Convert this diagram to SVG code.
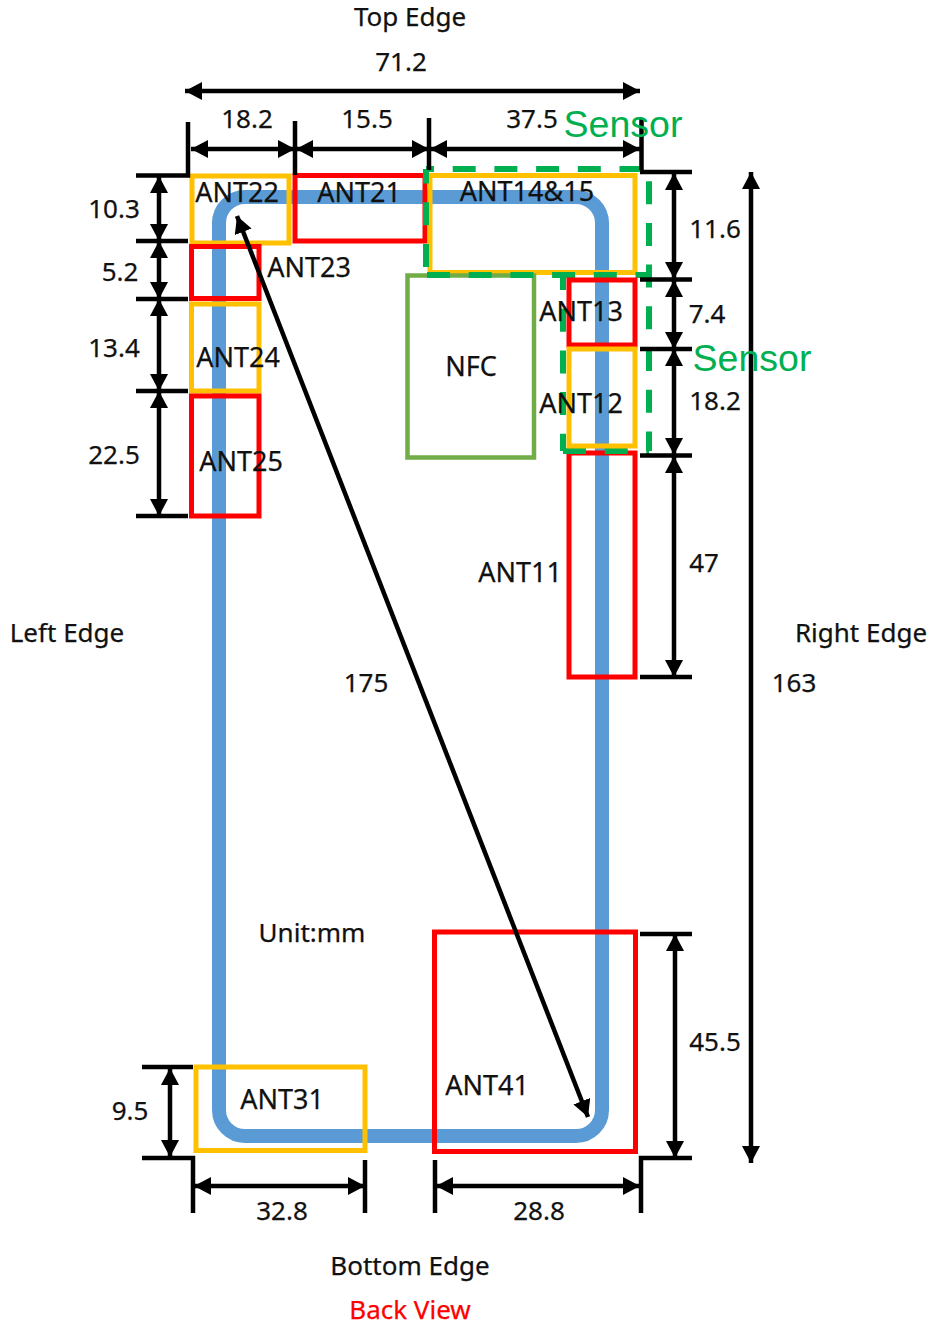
<svg xmlns="http://www.w3.org/2000/svg" width="933" height="1325" viewBox="0 0 933 1325">
<style>
text{font-family:"Noto Sans","Liberation Sans",sans-serif;font-size:26px;fill:#111;stroke:#111;stroke-width:.25px;text-anchor:middle}
.n{font-size:27px}
.s{font-family:"Liberation Sans",Arial,sans-serif;font-size:37.500px;fill:#00B050;stroke:none}
.r{fill:none;stroke:#FF0000;stroke-width:5}
.y{fill:none;stroke:#FFC000;stroke-width:5}
.g{fill:none;stroke:#70AD47;stroke-width:4.500}
.d{fill:none;stroke:#00B050;stroke-width:6;stroke-dasharray:23 18.700}
.l{fill:none;stroke:#000;stroke-width:4.500}
.a{fill:none;stroke:#000;stroke-width:4.500;marker-start:url(#h);marker-end:url(#h)}
</style>
<defs><marker id="h" markerUnits="userSpaceOnUse" markerWidth="18" markerHeight="19" refX="17" refY="9" orient="auto-start-reverse"><path d="M0 0L17 9L0 18z" fill="#000"/></marker></defs>
<rect id="frame" x="219" y="197" width="383" height="939" rx="26" fill="none" stroke="#5B9BD5" stroke-width="14"/>
<g id="ANT22"><rect class="y" x="192" y="176" width="97" height="67"/><text class="n" x="237" y="202">ANT22</text></g>
<g id="ANT21"><rect class="r" x="295" y="175.500" width="130" height="65.500"/><text class="n" x="359" y="202">ANT21</text></g>
<g id="ANT23"><rect class="r" x="191.500" y="246.500" width="67.500" height="52"/><text class="n" x="309" y="277">ANT23</text></g>
<g id="ANT24"><rect class="y" x="191.500" y="304" width="67.500" height="87"/><text class="n" x="238" y="367">ANT24</text></g>
<g id="ANT25"><rect class="r" x="191.500" y="396" width="67.500" height="120"/><text class="n" x="241" y="471">ANT25</text></g>
<g id="ANT1415"><rect class="y" x="430" y="175.500" width="205" height="97"/><text class="n" x="527" y="201">ANT14&amp;15</text></g>
<g id="NFC"><rect class="g" x="407.500" y="275.500" width="126.500" height="182"/><text class="n" x="471" y="376">NFC</text></g>
<g id="ANT11"><rect class="r" x="569" y="453" width="66" height="224"/><text class="n" x="520" y="582">ANT11</text></g>
<g id="ANT41"><rect class="r" x="434.500" y="932" width="201" height="219.500"/><text class="n" x="487" y="1095">ANT41</text></g>
<g id="ANT31"><rect class="y" x="196" y="1067" width="169" height="83.500"/><text class="n" x="282" y="1109">ANT31</text></g>
<g id="sensor">
<path class="d" style="stroke-dashoffset:15" d="M426 169H649V451"/>
<path class="d" d="M427 275H651"/>
<path class="d" d="M563 451H649"/>
<path class="d" style="stroke-dashoffset:8" d="M563 275V451"/>
<path class="d" style="stroke-dashoffset:8.400" d="M426 169V275"/>
</g>
<g id="ANT13"><rect class="r" x="569" y="280" width="66" height="65"/><text class="n" x="581" y="321">ANT13</text></g>
<g id="ANT12"><rect class="y" x="569" y="349" width="66" height="97"/><text class="n" x="581" y="413">ANT12</text></g>
<g id="connectors">
<path class="l" d="M136 175.500H188V122M295 121V175M429 118V170M641.500 118V170M640 172H692M640 279.500H692M640 349H692M640 455.500H692M640 677H692M640 934H692M136 241H188M136 299H188M136 391H188M136 516H188M142 1067H193M142 1158H193V1213M365 1160V1213M435 1160V1213M692 1158H641V1213"/>
<path class="a" d="M185 91H640"/>
<path class="a" d="M191 149H295"/>
<path class="a" d="M296 149H429"/>
<path class="a" d="M430 149H640"/>
<path class="a" d="M159 176V241"/>
<path class="a" d="M159 241V299"/>
<path class="a" d="M159 299V391"/>
<path class="a" d="M159 391V516"/>
<path class="a" d="M674 173V279"/>
<path class="a" d="M674 280V349"/>
<path class="a" d="M674 349V455"/>
<path class="a" d="M674 456V677"/>
<path class="a" d="M675 934V1158"/>
<path class="a" d="M751 172V1163"/>
<path class="a" d="M170 1068V1157"/>
<path class="a" d="M194 1186H365"/>
<path class="a" d="M436 1186H640"/>
<path class="a" d="M237 216L588 1117"/>
</g>
<g id="labels">
<text class="s" x="623" y="137">Sensor</text><text class="s" x="752" y="371">Sensor</text>
<text x="410" y="26">Top Edge</text>
<text x="401" y="71">71.2</text>
<text x="247" y="128">18.2</text>
<text x="367" y="128">15.5</text>
<text x="532" y="128">37.5</text>
<text x="114" y="218">10.3</text>
<text x="120" y="281">5.2</text>
<text x="114" y="357">13.4</text>
<text x="114" y="464">22.5</text>
<text x="715" y="238">11.6</text>
<text x="707" y="323">7.4</text>
<text x="715" y="410">18.2</text>
<text x="704" y="572">47</text>
<text x="715" y="1051">45.5</text>
<text x="67" y="642">Left Edge</text>
<text x="861" y="642">Right Edge</text>
<text x="366" y="692">175</text>
<text x="794" y="692">163</text>
<text x="312" y="942">Unit:mm</text>
<text x="130" y="1120">9.5</text>
<text x="282" y="1220">32.8</text>
<text x="539" y="1220">28.8</text>
<text x="410" y="1275">Bottom Edge</text>
<text x="410" y="1319" style="fill:#FF0000;stroke:#FF0000">Back View</text>
</g>
</svg>
